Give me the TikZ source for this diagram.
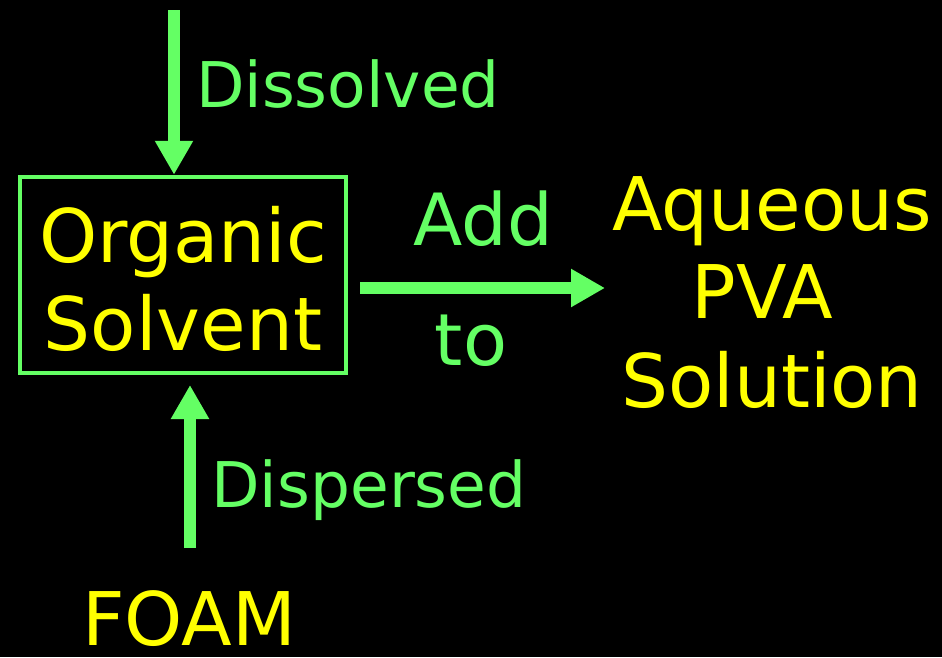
\documentclass[tikz,border=0pt]{standalone}
\usepackage{fontspec}
\setmainfont{DejaVu Sans}
\usetikzlibrary{arrows.meta}
\definecolor{flowgreen}{RGB}{100,255,100}
\definecolor{labelyellow}{RGB}{255,255,0}
\tikzset{
  flow/.style={draw=flowgreen, line width=12pt,
    -{Triangle[length=34pt,width=36pt]}},
  bigtext/.style={text=labelyellow, font=\fontsize{74}{88}\selectfont, inner sep=0pt, anchor=base},
  steptext/.style={text=flowgreen, font=\fontsize{63}{75}\selectfont, inner sep=0pt, anchor=base},
  verbtext/.style={text=flowgreen, font=\fontsize{72}{86}\selectfont, inner sep=0pt, anchor=base},
  solventbox/.style={draw=flowgreen, line width=4.5pt, minimum width=326pt, minimum height=196pt, inner sep=0pt}
}
\begin{document}
\begin{tikzpicture}[x=1pt,y=-1pt]
  % canvas
  \fill[black] (0,0) rectangle (942,657);
  \useasboundingbox (0,0) rectangle (942,657);

  % central box
  \node[solventbox] (box) at (183,275) {};
  \node[bigtext] (organic) at (183,262) {Organic};
  \node[bigtext] (solvent) at (183,350) {Solvent};

  % target solution
  \node[bigtext] (aqueous) at (772,230) {Aqueous};
  \node[bigtext] (pva) at (762,318) {PVA};
  \node[bigtext] (solution) at (772,407) {Solution};

  % bottom source
  \node[bigtext] (foam) at (189,645) {FOAM};

  % step labels
  \node[steptext] (dissolved) at (348,107) {Dissolved};
  \node[steptext] (dispersed) at (369,507) {Dispersed};
  \node[verbtext] (add) at (483,245) {Add};
  \node[verbtext] (to) at (471,365) {to};

  % connectors
  \coordinate (topstart) at (174,10);
  \draw[flow] (topstart) -- (topstart |- box.north);

  \coordinate (botstart) at (190,548);
  \coordinate (botend) at (190,385);
  \draw[flow] (botstart) -- (botend);

  \coordinate (rightstart) at (360,288);
  \coordinate (rightend) at (605,288);
  \draw[flow] (rightstart) -- (rightend);
\end{tikzpicture}
\end{document}
